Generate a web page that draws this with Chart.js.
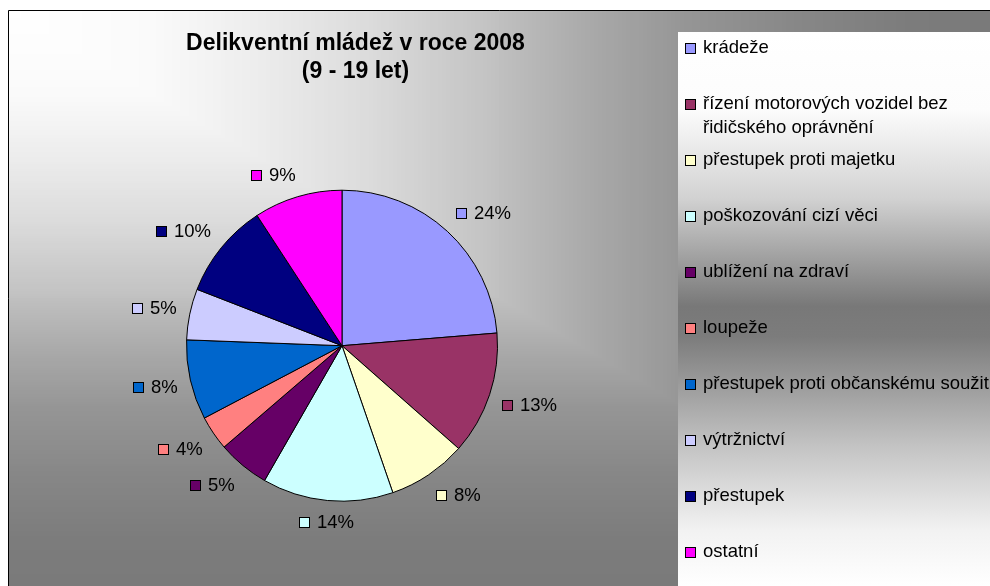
<!DOCTYPE html>
<html>
<head>
<meta charset="utf-8">
<style>
html,body{margin:0;padding:0;background:#fff;}
#wrap{width:990px;height:586px;position:relative;}
canvas{display:block;}
</style>
<script src="https://cdn.jsdelivr.net/npm/chart.js@4.4.1/dist/chart.umd.min.js"></script>
</head>
<body>
<div id="wrap"><canvas id="c" width="990" height="586"></canvas></div>
<script>
// ---- data ----
const categories = [
  'krádeže',
  ['řízení motorových vozidel bez', 'řidičského oprávnění'],
  'přestupek proti majetku',
  'poškozování cizí věci',
  'ublížení na zdraví',
  'loupeže',
  'přestupek proti občanskému soužití',
  'výtržnictví',
  'přestupek',
  'ostatní'
];
const shares = [23.7, 12.8, 8.2, 13.6, 5.4, 3.6, 8.3, 5.3, 9.9, 9.2];
const sliceColors = ['#9999FF', '#993366', '#FFFFCC', '#CCFFFF', '#660066',
                     '#FF8080', '#0066CC', '#CCCCFF', '#000080', '#FF00FF'];
const titleLines = ['Delikventní mládež v roce 2008', '(9 - 19 let)'];

const FONT = "'Liberation Sans', Arial, Helvetica, sans-serif";

function lerpStops(stops, t) {
  for (let i = 1; i < stops.length; i++) {
    if (t <= stops[i][0]) {
      const [s0, g0] = stops[i - 1], [s1, g1] = stops[i];
      return g0 + (g1 - g0) * (t - s0) / (s1 - s0);
    }
  }
  return stops[stops.length - 1][1];
}
const bgStops = [[0, 255], [0.15, 250], [0.26, 236], [0.365, 220], [0.486, 196],
                 [0.59, 170], [0.694, 149], [0.816, 134], [0.92, 124], [1, 122]];
const legendStops = [[0, 255], [0.14, 252], [0.3, 210], [0.495, 120], [0.55, 124],
                     [0.75, 196], [0.9, 242], [1, 255]];

const backgroundPlugin = {
  id: 'bgPlugin',
  beforeDraw(chart) {
    const ctx = chart.ctx, W = chart.width, H = chart.height;
    ctx.save();
    ctx.fillStyle = '#fff';
    ctx.fillRect(0, 0, W, H);
    const x0 = 8, y0 = 10, w = W - x0, h = H - y0, N = 240;
    for (let i = N; i >= 1; i--) {
      const t = i / N;
      const g = Math.round(lerpStops(bgStops, t));
      ctx.fillStyle = `rgb(${g},${g},${g})`;
      ctx.fillRect(x0, y0, Math.ceil(w * t), Math.ceil(h * t));
    }
    ctx.strokeStyle = '#000';
    ctx.lineWidth = 1;
    ctx.beginPath();
    ctx.moveTo(8.5, H);
    ctx.lineTo(8.5, 10.5);
    ctx.lineTo(W, 10.5);
    ctx.stroke();
    // legend panel
    const lx = 678, ly = 32;
    const grad = ctx.createLinearGradient(0, ly, 0, H);
    legendStops.forEach(([s, g]) => grad.addColorStop(s, `rgb(${Math.round(g)},${Math.round(g)},${Math.round(g)})`));
    ctx.fillStyle = grad;
    ctx.fillRect(lx, ly, W - lx, H - ly);
    ctx.restore();
  }
};

const sideLegendPlugin = {
  id: 'sideLegend',
  afterDraw(chart) {
    const ctx = chart.ctx;
    const labels = chart.data.labels;
    const cols = chart.data.datasets[0].backgroundColor;
    ctx.save();
    ctx.font = `18.5px ${FONT}`;
    ctx.textBaseline = 'middle';
    ctx.textAlign = 'left';
    ctx.lineWidth = 1;
    labels.forEach((lab, i) => {
      const y = 48 + 56 * i;
      const top = Math.round(y - 5);
      ctx.fillStyle = cols[i];
      ctx.fillRect(685.5, top + 0.5, 10, 10);
      ctx.strokeStyle = '#000';
      ctx.strokeRect(685.5, top + 0.5, 10, 10);
      const lines = Array.isArray(lab) ? lab : [lab];
      ctx.fillStyle = '#000';
      lines.forEach((ln, j) => ctx.fillText(ln, 703, y + j * 23.5));
    });
    ctx.restore();
  }
};

function ramp(d, lo, span) {
  const a = Math.min(1, Math.max(0, (Math.abs(d) - lo) / span));
  return Math.sign(d) * a;
}

const dataLabelPlugin = {
  id: 'pctLabels',
  afterDatasetsDraw(chart) {
    const ctx = chart.ctx;
    const ds = chart.data.datasets[0];
    const total = ds.data.reduce((a, b) => a + b, 0);
    const meta = chart.getDatasetMeta(0);
    ctx.save();
    ctx.font = `18.5px ${FONT}`;
    ctx.textBaseline = 'middle';
    ctx.textAlign = 'left';
    ctx.lineWidth = 1;
    meta.data.forEach((arc, i) => {
      const p = arc.getProps(['x', 'y', 'startAngle', 'endAngle', 'outerRadius'], true);
      const mid = (p.startAngle + p.endAngle) / 2;
      const dx = Math.cos(mid), dy = Math.sin(mid);
      const txt = Math.round(ds.data[i] / total * 100) + '%';
      const tw = ctx.measureText(txt).width;
      const gw = 18 + tw, hw = gw / 2, hh = 9;
      const R = p.outerRadius + 13;
      const cx = p.x + R * dx + ramp(dx, 0.1, 0.2) * hw;
      const cy = p.y + R * dy + ramp(dy, 0.1, 0.3) * hh;
      const left = Math.round(cx - hw);
      const top = Math.round(cy - 5);
      ctx.fillStyle = ds.backgroundColor[i];
      ctx.fillRect(left + 0.5, top + 0.5, 10, 10);
      ctx.strokeStyle = '#000';
      ctx.strokeRect(left + 0.5, top + 0.5, 10, 10);
      ctx.fillStyle = '#000';
      ctx.fillText(txt, left + 18, top + 5.5);
    });
    ctx.restore();
  }
};

new Chart(document.getElementById('c'), {
  type: 'pie',
  data: {
    labels: categories,
    datasets: [{
      data: shares,
      backgroundColor: sliceColors,
      borderColor: '#000',
      borderWidth: 1
    }]
  },
  options: {
    responsive: false,
    animation: false,
    events: [],
    layout: { padding: { left: 142, right: 421, top: 0, bottom: 84.3 } },
    plugins: {
      legend: { display: false },
      tooltip: { enabled: false },
      title: {
        display: true,
        text: titleLines,
        color: '#000',
        font: { family: FONT, size: 23, weight: 'bold', lineHeight: 1.248 },
        padding: { top: 29, bottom: 103.3 }
      }
    },
    scales: {
      spacer: {
        type: 'linear',
        position: 'right',
        display: true,
        grid: { display: false },
        border: { display: false },
        ticks: { display: false },
        title: { display: false },
        afterFit(scale) { scale.width = 27; }
      }
    }
  },
  plugins: [backgroundPlugin, dataLabelPlugin, sideLegendPlugin]
});
</script>
</body>
</html>
